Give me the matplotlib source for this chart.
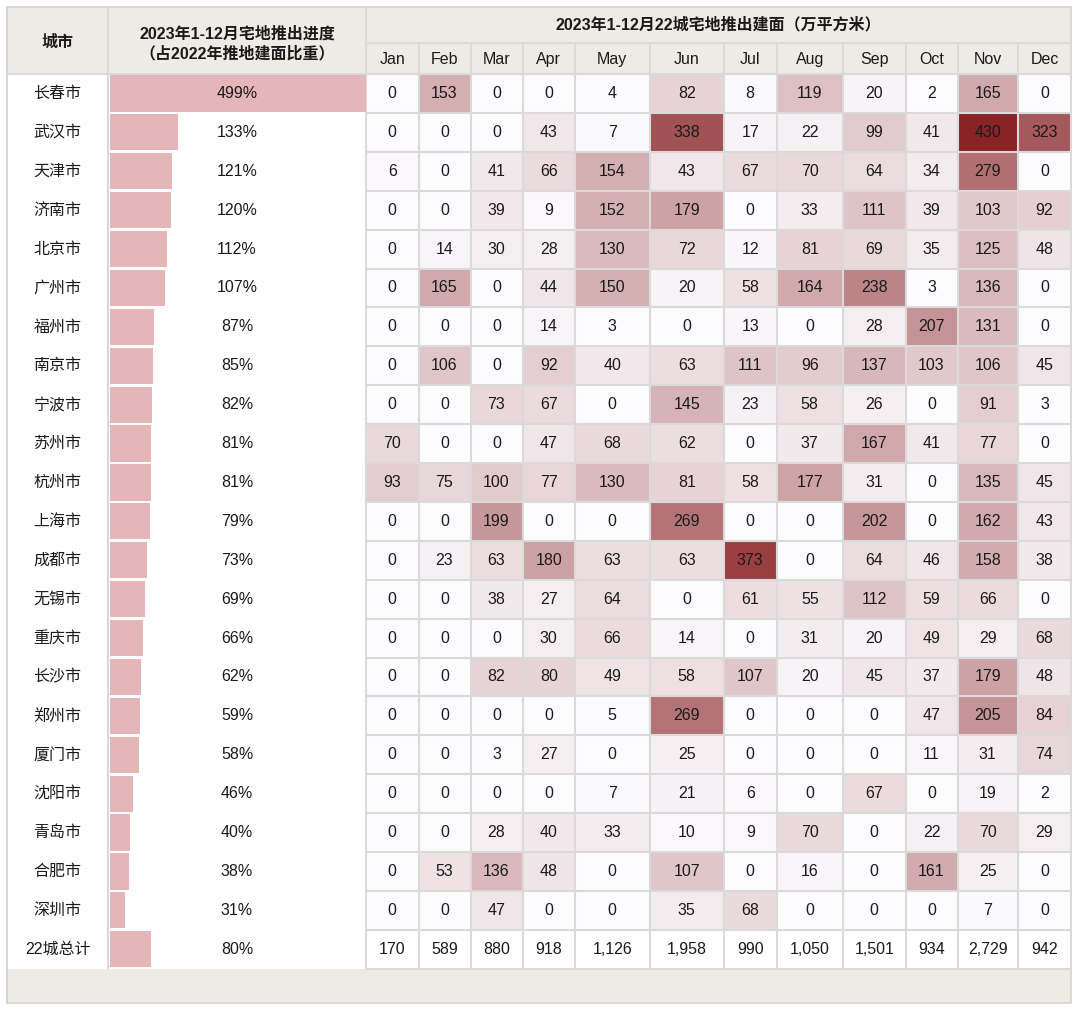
import matplotlib
matplotlib.use('Agg')
import matplotlib.pyplot as plt
import numpy as np
from matplotlib.colors import LinearSegmentedColormap
from matplotlib.patches import Rectangle

plt.rcParams['font.family'] = ['Liberation Sans', 'Noto Sans CJK SC', 'DejaVu Sans']

# ---------------- data ----------------
cities = ['长春市', '武汉市', '天津市', '济南市', '北京市', '广州市', '福州市', '南京市',
          '宁波市', '苏州市', '杭州市', '上海市', '成都市', '无锡市', '重庆市', '长沙市',
          '郑州市', '厦门市', '沈阳市', '青岛市', '合肥市', '深圳市']
total_label = '22城总计'
months = ['Jan', 'Feb', 'Mar', 'Apr', 'May', 'Jun', 'Jul', 'Aug', 'Sep', 'Oct', 'Nov', 'Dec']
progress_pct = [499, 133, 121, 120, 112, 107, 87, 85, 82, 81, 81, 79, 73, 69, 66, 62,
                59, 58, 46, 40, 38, 31]
total_pct = 80

changchun = [0, 153, 0, 0, 4, 82, 8, 119, 20, 2, 165, 0]
wuhan = [0, 0, 0, 43, 7, 338, 17, 22, 99, 41, 430, 323]
tianjin = [6, 0, 41, 66, 154, 43, 67, 70, 64, 34, 279, 0]
jinan = [0, 0, 39, 9, 152, 179, 0, 33, 111, 39, 103, 92]
beijing = [0, 14, 30, 28, 130, 72, 12, 81, 69, 35, 125, 48]
guangzhou = [0, 165, 0, 44, 150, 20, 58, 164, 238, 3, 136, 0]
fuzhou = [0, 0, 0, 14, 3, 0, 13, 0, 28, 207, 131, 0]
nanjing = [0, 106, 0, 92, 40, 63, 111, 96, 137, 103, 106, 45]
ningbo = [0, 0, 73, 67, 0, 145, 23, 58, 26, 0, 91, 3]
suzhou = [70, 0, 0, 47, 68, 62, 0, 37, 167, 41, 77, 0]
hangzhou = [93, 75, 100, 77, 130, 81, 58, 177, 31, 0, 135, 45]
shanghai = [0, 0, 199, 0, 0, 269, 0, 0, 202, 0, 162, 43]
chengdu = [0, 23, 63, 180, 63, 63, 373, 0, 64, 46, 158, 38]
wuxi = [0, 0, 38, 27, 64, 0, 61, 55, 112, 59, 66, 0]
chongqing = [0, 0, 0, 30, 66, 14, 0, 31, 20, 49, 29, 68]
changsha = [0, 0, 82, 80, 49, 58, 107, 20, 45, 37, 179, 48]
zhengzhou = [0, 0, 0, 0, 5, 269, 0, 0, 0, 47, 205, 84]
xiamen = [0, 0, 3, 27, 0, 25, 0, 0, 0, 11, 31, 74]
shenyang = [0, 0, 0, 0, 7, 21, 6, 0, 67, 0, 19, 2]
qingdao = [0, 0, 28, 40, 33, 10, 9, 70, 0, 22, 70, 29]
hefei = [0, 53, 136, 48, 0, 107, 0, 16, 0, 161, 25, 0]
shenzhen = [0, 0, 47, 0, 0, 35, 68, 0, 0, 0, 7, 0]
monthly_totals = [170, 589, 880, 918, 1126, 1958, 990, 1050, 1501, 934, 2729, 942]

city_values = [changchun, wuhan, tianjin, jinan, beijing, guangzhou, fuzhou, nanjing,
               ningbo, suzhou, hangzhou, shanghai, chengdu, wuxi, chongqing, changsha,
               zhengzhou, xiamen, shenyang, qingdao, hefei, shenzhen]

header_city = '城市'
header_bar = '2023年1-12月宅地推出进度\n（占2022年推地建面比重）'
header_title = '2023年1-12月22城宅地推出建面（万平方米）'

# ---------------- layout (pixels) ----------------
W, H = 1080, 1013
frame_l, frame_r, frame_t, frame_b = 7, 1071, 7, 1003
col_city = (7, 108)
col_bar = (108, 366)
month_edges = [366, 418.5, 470.5, 522.5, 575, 649.5, 724, 776.5, 843, 905.5, 957.5, 1018, 1071]
header_mid = 42.5
data_top = 74
n_rows = len(cities) + 1
row_h = 38.9
data_bot = data_top + n_rows * row_h

HEADER_BG = '#EEEAE4'
GRID = '#DADADA'
BAR_C = '#E5B6B7'
TXT = '#1A1A1A'
FS = 11.5

fig = plt.figure(figsize=(W / 100, H / 100), dpi=100)
ax = fig.add_axes([0, 0, 1, 1])
ax.set_xlim(0, W)
ax.set_ylim(H, 0)
ax.axis('off')
ax.set_zorder(0)

# frame / header background
ax.add_patch(Rectangle((frame_l, frame_t), frame_r - frame_l, frame_b - frame_t,
                       facecolor=HEADER_BG, edgecolor='#D3D3D3', lw=1.2, zorder=0))
ax.add_patch(Rectangle((frame_l, data_top), frame_r - frame_l, data_bot - data_top,
                       facecolor='white', edgecolor='none', zorder=1))
ax.vlines(frame_l, frame_t, frame_b, color='#D3D3D3', lw=1.2, zorder=3)

# heatmap
vals = np.array(city_values, dtype=float)
cmap = LinearSegmentedColormap.from_list('wr', ['#FCFCFF', '#8A2326'])
y_edges = data_top + np.arange(len(cities) + 1) * row_h
ax.pcolormesh(month_edges, y_edges, vals, cmap=cmap, vmin=0, vmax=vals.max(), zorder=2)

# grid lines
ax.hlines(np.append(y_edges, data_bot), month_edges[0], month_edges[-1], color=GRID, lw=1.5, zorder=3)
ax.vlines(month_edges[1:-1], header_mid, data_bot, color=GRID, lw=1.5, zorder=3)
ax.vlines([col_city[1], col_bar[1]], frame_t, data_bot, color=GRID, lw=1.5, zorder=3)
ax.hlines(header_mid, col_bar[1], frame_r, color=GRID, lw=1.5, zorder=3)
ax.hlines(data_top, frame_l, frame_r, color=GRID, lw=1.5, zorder=3)
ax.vlines(frame_r, frame_t, data_bot, color=GRID, lw=1.5, zorder=3)

# texts
row_centers = data_top + (np.arange(n_rows) + 0.5) * row_h
city_x = (col_city[0] + col_city[1]) / 2
bar_cx = (col_bar[0] + col_bar[1]) / 2
month_cx = [(month_edges[i] + month_edges[i + 1]) / 2 for i in range(len(months))]

ax.text(city_x, 42, header_city, ha='center', va='center', fontsize=FS, fontweight='bold', color=TXT)
ax.text(bar_cx, 43.5, header_bar, ha='center', va='center', fontsize=FS, fontweight='bold',
        color=TXT, linespacing=1.35)
ax.text((month_edges[0] + month_edges[-1]) / 2, 25, header_title, ha='center', va='center',
        fontsize=FS, fontweight='bold', color=TXT)
for cx, m in zip(month_cx, months):
    ax.text(cx, 59, m, ha='center', va='center', fontsize=FS, color=TXT)

labels = cities + [total_label]
pcts = progress_pct + [total_pct]
for r, name in enumerate(labels):
    ax.text(city_x, row_centers[r], name, ha='center', va='center', fontsize=FS, color=TXT, zorder=5)

for r, row in enumerate(city_values):
    for c, v in enumerate(row):
        ax.text(month_cx[c], row_centers[r], f'{v:,}', ha='center', va='center', fontsize=FS,
                color=TXT, zorder=5)
for c, v in enumerate(monthly_totals):
    ax.text(month_cx[c], row_centers[-1], f'{v:,}', ha='center', va='center', fontsize=FS,
            color=TXT, zorder=5)

# data bars
bx0, bx1 = col_bar[0] + 1.5, col_bar[1]
bax = fig.add_axes([bx0 / W, 1 - data_bot / H, (bx1 - bx0) / W, (data_bot - data_top) / H])
bax.set_zorder(1)
bax.patch.set_alpha(0)
bax.barh(np.arange(n_rows), pcts, height=0.93, color=BAR_C, edgecolor='none')
bax.set_xlim(0, max(pcts))
bax.set_ylim(n_rows - 0.5, -0.5)
bax.axis('off')

# percent labels above the bars
tax = fig.add_axes([0, 0, 1, 1])
tax.set_xlim(0, W)
tax.set_ylim(H, 0)
tax.axis('off')
tax.set_zorder(2)
for r, p in enumerate(pcts):
    tax.text(bar_cx, row_centers[r], f'{p}%', ha='center', va='center', fontsize=FS, color=TXT)

fig.savefig('out.png', dpi=100, facecolor='white')
